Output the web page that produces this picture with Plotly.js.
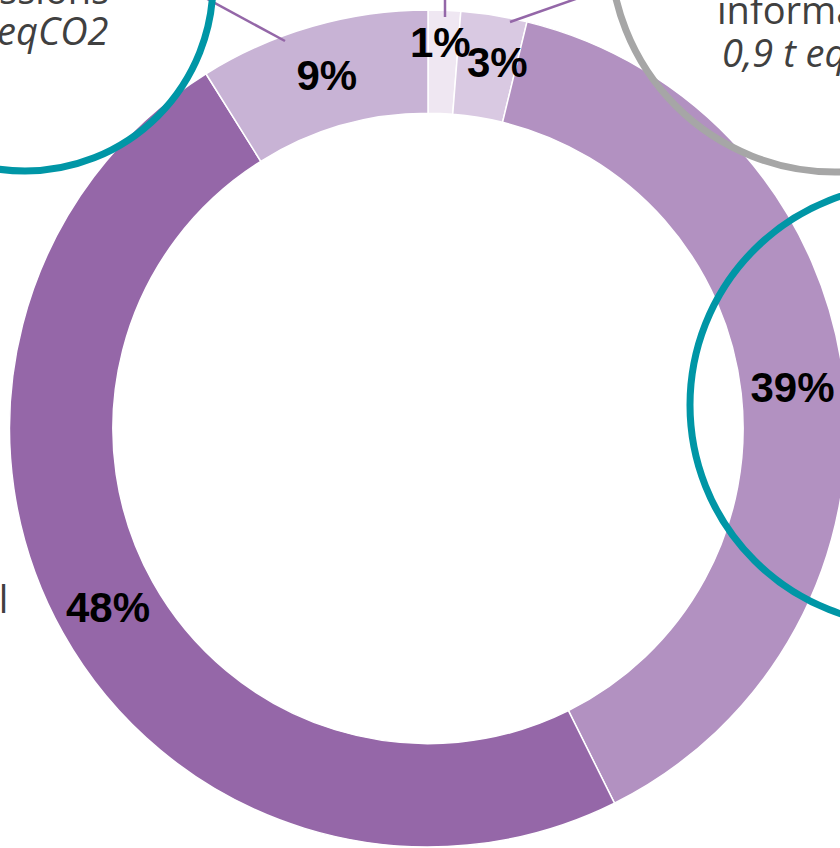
<!DOCTYPE html>
<html>
<head>
<meta charset="utf-8">
<script src="https://cdn.plot.ly/plotly-3.0.1.min.js"></script>
<style>
  html, body { margin: 0; padding: 0; overflow: hidden; background: #ffffff; }
  #chart { width: 860px; height: 860px; }
</style>
</head>
<body>
<div id="chart"></div>
<script>
// Data (clockwise from 12 o'clock)
const categories = ['1%', '3%', '39%', '48%', '9%'];
const shares = [1.25, 2.55, 38.85, 48.45, 8.9];
const shownLabels = ['1%', '3%', '39%', '48%', '9%'];
const sliceColors = ['#EFE7F2', '#D9C9E2', '#B291C1', '#9567A8', '#C8B3D5'];
// thin slices get their label from an annotation placed from the data below
const labelPlacement = ['outer', 'outer', 'inside', 'inside', 'inside'];

// style: radial fraction and pixel nudges for the thin-slice labels
const outerLabelStyle = [
  { rf: 0.915, dx: -3, dy: 3 },
  { rf: 0.90,  dx: 10, dy: -6 }
];

const W = 860, H = 860;
const px = v => v / W;
const py = v => 1 - v / H;

// pie geometry (pixels of the 860x860 paper)
const domX = [9.5, 846.5], domY = [10, 847];
const holeFrac = 0.753;
const cxPie = (domX[0] + domX[1]) / 2, cyPie = (domY[0] + domY[1]) / 2;
const Rpie = Math.min(domX[1] - domX[0], domY[1] - domY[0]) / 2;

const labelFont = { family: 'Liberation Sans, Arial, sans-serif', size: 42, color: '#000000', weight: 'bold' };

const trace = {
  type: 'pie',
  labels: categories,
  values: shares,
  text: shownLabels,
  textinfo: 'text',
  textposition: labelPlacement.map(p => p === 'inside' ? 'inside' : 'none'),
  insidetextorientation: 'horizontal',
  textfont: labelFont,
  sort: false,
  direction: 'clockwise',
  rotation: 0,
  hole: holeFrac,
  marker: { colors: sliceColors, line: { color: '#ffffff', width: 1.5 } },
  domain: { x: [px(domX[0]), px(domX[1])], y: [py(domY[1]), py(domY[0])] },
  hoverinfo: 'none',
  showlegend: false
};

const total = shares.reduce((a, b) => a + b, 0);
const smallLabels = [];
let cum = 0, k = 0;
shares.forEach((v, i) => {
  const mid = (cum + v / 2) / total * 2 * Math.PI;
  cum += v;
  if (labelPlacement[i] === 'outer') {
    const st = outerLabelStyle[k++];
    const rr = Rpie * st.rf;
    smallLabels.push({
      xref: 'paper', yref: 'paper',
      x: px(cxPie + rr * Math.sin(mid)), y: py(cyPie - rr * Math.cos(mid)),
      xshift: st.dx, yshift: st.dy,
      xanchor: 'center', yanchor: 'middle', showarrow: false,
      text: shownLabels[i], font: labelFont
    });
  }
});

function circle(cx, cy, r, color) {
  return { type: 'circle', xref: 'paper', yref: 'paper',
    x0: px(cx - r), x1: px(cx + r), y0: py(cy + r), y1: py(cy - r),
    line: { color: color, width: 7 }, fillcolor: 'rgba(0,0,0,0)', layer: 'above' };
}
function seg(x0, y0, x1, y1) {
  return { type: 'line', xref: 'paper', yref: 'paper',
    x0: px(x0), y0: py(y0), x1: px(x1), y1: py(y1),
    line: { color: '#9467A8', width: 2.5 }, layer: 'above' };
}

const greyFont = { family: 'Open Sans, Noto Sans, sans-serif', size: 38, color: '#404040' };
function note(text, x, y, xanchor) {
  return { xref: 'paper', yref: 'paper', x: px(x), y: py(y), xanchor: xanchor, yanchor: 'middle',
    text: text, showarrow: false, font: greyFont, borderpad: 0 };
}

const layout = {
  width: W, height: H,
  margin: { l: 0, r: 0, t: 0, b: 0 },
  paper_bgcolor: '#ffffff',
  plot_bgcolor: '#ffffff',
  showlegend: false,
  uniformtext: { mode: 'show', minsize: 42 },
  shapes: [
    seg(200, -5, 285, 41),
    seg(445, -5, 445, 17),
    seg(587, -5, 510, 22),
    circle(25, -17, 188, '#0096A6'),
    circle(835, -53, 225, '#A6A6A6'),
    circle(910, 405, 220, '#0096A6')
  ],
  annotations: [
    note('émissions', 110, -11, 'right'),
    note('<i>eqCO2</i>', 110, 30, 'right'),
    note('informatique', 716, 9, 'left'),
    note('<i>0,9 t eqCO2</i>', 721, 52, 'left'),
    note('matériel', 9, 598, 'right')
  ].concat(smallLabels)
};

Plotly.newPlot('chart', [trace], layout, { displayModeBar: false, staticPlot: true });
</script>
</body>
</html>
